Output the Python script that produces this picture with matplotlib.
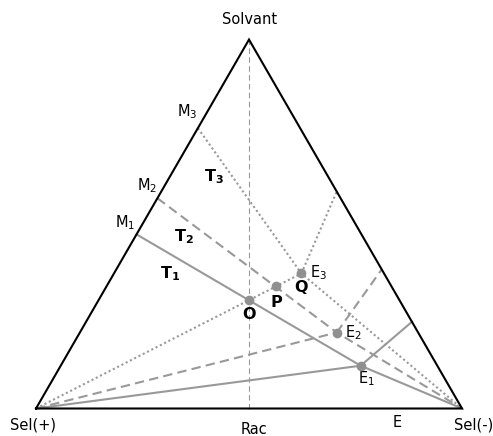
import numpy as np
import matplotlib
matplotlib.use("Agg")
import matplotlib.pyplot as plt

# Compositions as (Sel(+), Sel(-), Solvant) fractions
vertices = {"Sel(+)": (1, 0, 0), "Sel(-)": (0, 1, 0), "Solvant": (0, 0, 1)}
rac = (0.5, 0.5, 0.0)
e_base = (0.153, 0.847, 0.0)

m_points = [(0.528, 0.0, 0.472), (0.430, 0.0, 0.570), (0.240, 0.0, 0.760)]
e_points = [(0.180, 0.704, 0.116), (0.191, 0.603, 0.206), (0.194, 0.440, 0.366)]
r_points = [(0.0, 0.765, 0.235), (0.0, 0.623, 0.377), (0.0, 0.412, 0.588)]
o_point = (0.353, 0.353, 0.294)
p_point = (0.270, 0.398, 0.332)
q_point = e_points[2]

m_labels = ["M$_1$", "M$_2$", "M$_3$"]
e_labels = ["E$_1$", "E$_2$", "E$_3$"]
t_labels = [r"$\mathbf{T_1}$", r"$\mathbf{T_2}$", r"$\mathbf{T_3}$"]

S3 = np.sqrt(3) / 2
SIDE = 426.0  # px


def cart(p):
    a, b, c = p
    return b + c / 2.0, c * S3


def px(dx, dy):
    return dx / SIDE, dy / SIDE


fig = plt.figure(figsize=(4.93, 4.36), dpi=100)
ax = fig.add_axes([0, 0, 1, 1])
ax.set_xlim(-36 / SIDE, (493 - 36) / SIDE)
ax.set_ylim((408.5 - 436) / SIDE, 408.5 / SIDE)
ax.axis("off")

gray = "#999999"
lw = 1.5
styles = [dict(linestyle="-"),
          dict(linestyle=(0, (4.5, 2.5))),
          dict(linestyle=(0, (1.0, 1.3)))]

# vertical Rac - Solvant line
xr, yr = cart(rac)
xs, ys = cart(vertices["Solvant"])
ax.plot([xr, xs], [yr, ys], color=gray, lw=0.8, linestyle=(0, (5, 3)), zorder=1)

sp = cart(vertices["Sel(+)"])
sm = cart(vertices["Sel(-)"])
for i in range(3):
    m = cart(m_points[i]); e = cart(e_points[i]); r = cart(r_points[i])
    st = styles[i]
    ax.plot([m[0], e[0], sm[0]], [m[1], e[1], sm[1]], color=gray, lw=lw, zorder=2, **st)
    ax.plot([sp[0], e[0]], [sp[1], e[1]], color=gray, lw=lw, zorder=2, **st)
    ax.plot([e[0], r[0]], [e[1], r[1]], color=gray, lw=lw, zorder=2, **st)

# triangle
tri = [cart(vertices[k]) for k in ["Sel(+)", "Sel(-)", "Solvant", "Sel(+)"]]
ax.plot([t[0] for t in tri], [t[1] for t in tri], color="black", lw=1.5,
        solid_joinstyle="miter", zorder=3)

# points
pts = [o_point, p_point] + e_points
ax.plot([cart(p)[0] for p in pts], [cart(p)[1] for p in pts], "o",
        color="#909090", ms=7, mec="none", zorder=4)

fs = 10.5


def lab(point, text, dx, dy, ha="center", va="center", size=fs, **kw):
    x, y = cart(point)
    ox, oy = px(dx, dy)
    ax.text(x + ox, y + oy, text, ha=ha, va=va, fontsize=size, **kw)


lab(vertices["Solvant"], "Solvant", 1, 20)
lab(vertices["Sel(+)"], "Sel(+)", -3, -16)
lab(vertices["Sel(-)"], "Sel(-)", 12, -16)
lab(rac, "Rac", 5, -21)
lab(e_base, "E", 0, -14)

m_off = [(-21.7, 7.3), (-20.7, 8.3), (-20.4, 11.6)]
for i in range(3):
    lab(m_points[i], m_labels[i], m_off[i][0], m_off[i][1], ha="left", va="baseline")

e_off = [(-2.7, -17.6), (8.3, -4.4), (8.7, -4.0)]
for i in range(3):
    lab(e_points[i], e_labels[i], e_off[i][0], e_off[i][1], ha="left", va="baseline")

lab(o_point, "O", 0, -14, size=11.5, fontweight="bold")
lab(p_point, "P", 0, -16, size=11.5, fontweight="bold")
lab(q_point, "Q", 0, -14, size=11.5, fontweight="bold")

# region labels (positions in px relative to triangle origin)
t_pos = [(170, 274), (184, 237), (214, 177)]
for (tx, ty), t in zip(t_pos, t_labels):
    ax.text((tx - 36) / SIDE, (408.5 - ty) / SIDE, t, ha="center", va="center", fontsize=11.5)

fig.savefig("out.png", dpi=100)
